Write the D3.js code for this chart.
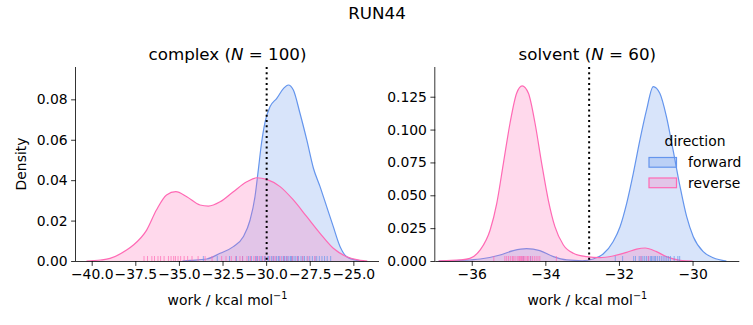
<!DOCTYPE html>
<html>
<head>
<meta charset="utf-8">
<script src="https://cdn.jsdelivr.net/npm/d3@7"></script>
<style>
  body { margin: 0; background: #fff; }
  text { font-family: "DejaVu Sans", sans-serif; fill: #000; }
</style>
</head>
<body>
<div id="chart"></div>
<script>
const width = 753, height = 325;

// density curves (x = work, y = density)
const complexFwdX = [-34.8, -34.36, -33.4, -32.64, -31.88, -31.31, -30.92, -30.64, -30.45, -30.27, -30.06, -29.78, -29.39, -29.0, -28.73, -28.44, -28.06, -27.67, -27.29, -26.91, -26.53, -26.15, -25.76, -25.38, -24.81, -24.4];
const complexFwdY = [0, 0.0003, 0.001, 0.0038, 0.0071, 0.012, 0.0203, 0.0318, 0.045, 0.058, 0.0689, 0.0763, 0.0805, 0.0854, 0.0871, 0.0846, 0.0731, 0.0599, 0.0459, 0.0368, 0.0269, 0.017, 0.0071, 0.0021, 0.0003, 0];
const complexRevX = [-40.3, -39.5, -38.95, -38.0, -37.61, -36.85, -36.29, -35.71, -35.18, -34.55, -33.79, -33.31, -32.64, -31.88, -31.11, -30.54, -29.97, -29.2, -28.44, -27.67, -26.91, -26.15, -25.38, -24.6, -24.2];
const complexRevY = [0, 0.0005, 0.0013, 0.0054, 0.0079, 0.0153, 0.0252, 0.0327, 0.0343, 0.0318, 0.0277, 0.0272, 0.0293, 0.0343, 0.0392, 0.0412, 0.0404, 0.0368, 0.0302, 0.0219, 0.0137, 0.0063, 0.0021, 0.0003, 0];

const solventFwdX = [-36.9, -36.3, -35.77, -35.23, -34.87, -34.51, -34.15, -33.78, -33.42, -33.0, -32.7, -32.43, -32.16, -31.97, -31.79, -31.61, -31.43, -31.25, -31.07, -30.89, -30.71, -30.53, -30.34, -30.16, -29.98, -29.71, -29.44, -29.08];
const solventFwdY = [0, 0.0005, 0.0015, 0.0046, 0.0079, 0.0094, 0.0079, 0.0033, 0.0008, 0.0002, 0.0015, 0.0053, 0.0147, 0.0261, 0.0439, 0.0667, 0.0921, 0.1149, 0.1327, 0.1276, 0.1099, 0.0845, 0.0566, 0.0337, 0.0185, 0.0071, 0.0025, 0];
const solventRevX = [-36.9, -36.68, -36.3, -36.05, -35.77, -35.5, -35.32, -35.14, -34.96, -34.78, -34.63, -34.46, -34.28, -34.1, -33.92, -33.74, -33.51, -33.24, -32.88, -32.52, -32.16, -31.79, -31.52, -31.29, -30.98, -30.71, -30.34, -30.0];
const solventRevY = [0, 0.0003, 0.0008, 0.002, 0.0084, 0.0236, 0.0439, 0.0743, 0.1048, 0.1276, 0.1332, 0.1276, 0.1048, 0.0743, 0.0464, 0.0261, 0.0122, 0.0059, 0.0033, 0.0025, 0.0038, 0.0066, 0.0091, 0.0099, 0.0071, 0.0033, 0.0005, 0];

// rug samples (estimated)
const complexFwdRug = [-33.6, -32.8, -32.1, -31.7, -31.35, -31.0, -30.85, -30.6, -30.5, -30.35, -30.25, -30.1, -30.05, -29.9, -29.85, -29.7, -29.6, -29.55, -29.4, -29.3, -29.25, -29.1, -29.0, -28.95, -28.85, -28.8, -28.7, -28.6, -28.55, -28.5, -28.4, -28.3, -28.2, -28.15, -28.0, -27.9, -27.8, -27.65, -27.5, -27.35, -27.2, -27.1, -26.95, -26.8, -26.65, -26.5, -26.3];
const complexRevRug = [-37.0, -36.8, -36.55, -36.4, -36.2, -36.05, -35.85, -35.6, -35.45, -35.3, -35.2, -35.05, -34.9, -34.7, -34.5, -34.25, -33.9, -33.5, -33.1, -32.55, -32.3, -32.0, -31.75, -31.5, -31.35, -31.1, -30.9, -30.7, -30.55, -30.4, -30.2, -30.05, -29.8, -29.6, -29.45, -29.2, -29.0, -28.8, -28.5, -28.2, -27.9, -27.6, -27.2];
const solventFwdRug = [-34.6, -34.4, -32.1, -31.9, -31.6, -31.55, -31.45, -31.4, -31.35, -31.3, -31.25, -31.2, -31.15, -31.12, -31.1, -31.05, -31.02, -31.0, -30.95, -30.9, -30.85, -30.8, -30.75, -30.7, -30.65, -30.6, -30.5, -30.4, -30.35];
const solventRevRug = [-35.4, -35.1, -35.05, -35.0, -34.95, -34.9, -34.88, -34.85, -34.8, -34.75, -34.72, -34.7, -34.67, -34.65, -34.63, -34.6, -34.58, -34.55, -34.5, -34.48, -34.45, -34.4, -34.35, -34.3, -34.25, -34.2, -34.15, -33.7, -31.4, -31.2];

const complexTicks = [-40, -37.5, -35, -32.5, -30, -27.5, -25];
const solventTicks = [-36, -34, -32, -30];
const complexYTicks = [0, 0.02, 0.04, 0.06, 0.08];
const solventYTicks = [0, 0.025, 0.05, 0.075, 0.1, 0.125];
const complexMean = -29.97;
const solventMean = -32.81;

const fwdColor = "#6495ED", revColor = "#FF69B4";

const svg = d3.select("#chart").append("svg")
    .attr("width", width)
    .attr("height", height);

svg.append("text")
    .attr("x", 377).attr("y", 18.5)
    .attr("text-anchor", "middle")
    .style("font-size", "16.7px")
    .text("RUN44");

const fmtMinus = s => s.replace("-", "\u2212");

function panel(opt) {
    const x = d3.scaleLinear().domain(opt.xdom).range([opt.left, opt.right]);
    const y = d3.scaleLinear().domain(opt.ydom).range([261, 67]);
    const g = svg.append("g");

    const area = d3.area()
        .x(d => x(d[0])).y0(y(0)).y1(d => y(d[1]))
        .curve(d3.curveMonotoneX);
    const line = d3.line()
        .x(d => x(d[0])).y(d => y(d[1]))
        .curve(d3.curveMonotoneX);

    opt.series.forEach(s => {
        const pts = d3.zip(s.x, s.y);
        g.append("path").attr("d", area(pts))
            .attr("fill", s.color).attr("fill-opacity", 0.25);
        g.append("path").attr("d", line(pts))
            .attr("fill", "none").attr("stroke", s.color).attr("stroke-width", 1.2);
    });

    // rug
    opt.series.forEach(s => {
        g.selectAll(null).data(s.rug).enter().append("line")
            .attr("x1", d => x(d)).attr("x2", d => x(d))
            .attr("y1", y(0)).attr("y2", y(0) - 5)
            .attr("stroke", s.color).attr("stroke-opacity", 0.7)
            .attr("stroke-width", 1);
    });

    g.append("line")
        .attr("x1", x(opt.mean)).attr("x2", x(opt.mean))
        .attr("y1", 67).attr("y2", 261)
        .attr("stroke", "#000").attr("stroke-width", 2)
        .attr("stroke-dasharray", "2,3.3");

    const xAxis = d3.axisBottom(x).tickValues(opt.xticks)
        .tickSize(4.9).tickPadding(3.5)
        .tickFormat(d => fmtMinus(d3.format(opt.xfmt)(d)));
    const gx = svg.append("g").attr("transform", "translate(0,261)").call(xAxis);
    gx.select(".domain").attr("d", `M${opt.left},0.5H${opt.right}`);

    const yAxis = d3.axisLeft(y).tickValues(opt.yticks)
        .tickSize(4.9).tickPadding(3.5)
        .tickFormat(d3.format(opt.yfmt));
    const gy = svg.append("g").attr("transform", `translate(${opt.left},0)`).call(yAxis);
    gy.select(".domain").attr("d", `M-0.5,261V67`);

    [gx, gy].forEach(a => {
        a.selectAll("text").style("font-size", "13.9px")
            .style("font-family", "'DejaVu Sans', sans-serif");
        a.selectAll("line, path").attr("stroke-width", 0.8);
    });

    const cx = (opt.left + opt.right) / 2;
    const t = svg.append("text").attr("x", cx).attr("y", 60)
        .attr("text-anchor", "middle").style("font-size", "16.7px");
    t.append("tspan").text(opt.name + " (");
    t.append("tspan").style("font-style", "italic").text("N");
    t.append("tspan").text(" = " + opt.n + ")");

    const xl = svg.append("text").attr("x", cx).attr("y", 304.5)
        .attr("text-anchor", "middle").style("font-size", "13.9px");
    xl.append("tspan").text("work / kcal mol");
    xl.append("tspan").attr("dy", -5.5).style("font-size", "9.7px").text("\u22121");
}

panel({
    name: "complex", n: 100, left: 76, right: 379,
    xdom: [-40.9, -23.53], ydom: [0, 0.096],
    xticks: complexTicks, yticks: complexYTicks, xfmt: ".1f", yfmt: ".2f",
    mean: complexMean,
    series: [
        {x: complexFwdX, y: complexFwdY, rug: complexFwdRug, color: fwdColor},
        {x: complexRevX, y: complexRevY, rug: complexRevRug, color: revColor}
    ]
});

panel({
    name: "solvent", n: 60, left: 435.3, right: 739.3,
    xdom: [-36.99, -28.73], ydom: [0, 0.1476],
    xticks: solventTicks, yticks: solventYTicks, xfmt: "d", yfmt: ".3f",
    mean: solventMean,
    series: [
        {x: solventFwdX, y: solventFwdY, rug: solventFwdRug, color: fwdColor},
        {x: solventRevX, y: solventRevY, rug: solventRevRug, color: revColor}
    ]
});

svg.append("text")
    .attr("transform", "translate(26,164) rotate(-90)")
    .attr("text-anchor", "middle").style("font-size", "13.9px")
    .text("Density");

// legend
const legend = svg.append("g");
legend.append("text").attr("x", 695).attr("y", 146)
    .attr("text-anchor", "middle").style("font-size", "13.9px").text("direction");
const legendItems = [["forward", fwdColor], ["reverse", revColor]];
legend.selectAll("g.item").data(legendItems).enter().append("g")
    .attr("class", "item")
    .attr("transform", (d, i) => `translate(649,${157.5 + i * 20.5})`)
    .each(function (d) {
        const it = d3.select(this);
        it.append("rect").attr("width", 27.5).attr("height", 9.7)
            .attr("fill", d[1]).attr("fill-opacity", 0.25)
            .attr("stroke", d[1]).attr("stroke-width", 1.2);
        it.append("text").attr("x", 39).attr("y", 9.5)
            .style("font-size", "13.9px").text(d[0]);
    });
</script>
</body>
</html>
